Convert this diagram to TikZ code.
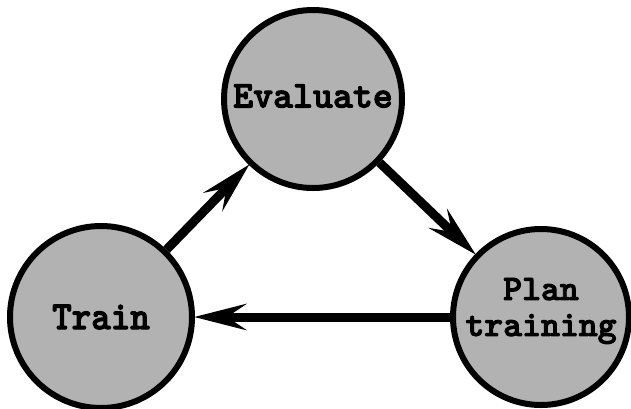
\documentclass[tikz,border=0pt]{standalone}
\usepackage{fontspec}
\newfontfamily\lblfont{lmmonolt10-bold.otf}[FakeBold=2.6]
\newfontfamily\lbltrain{lmmonolt10-bold.otf}[FakeBold=2.6, FakeStretch=0.93]
\usetikzlibrary{arrows.meta}
\definecolor{fillgray}{RGB}{178,178,178}
\tikzset{
  stagecircle/.style={circle, draw=black, line width=6pt, fill=fillgray, inner sep=0pt, align=center, text=black},
  cyclearrow/.style={line width=9pt, draw=black, -{Stealth[length=52pt,width=26pt,inset=19pt]}, shorten >=-1pt}
}
\begin{document}
\begin{tikzpicture}[x=1pt,y=-1pt]
\useasboundingbox[fill=white] (0,0) rectangle (631,408);
\node[stagecircle, minimum size=178pt, font=\lblfont\fontsize{38}{40}\selectfont] (evaluate) at (313,99) {\raisebox{-8.5pt}[0pt][0pt]{Evaluate}};
\node[stagecircle, minimum size=182pt, font=\lbltrain\fontsize{40}{42}\selectfont] (train) at (101,317) {Train};
\node[stagecircle, minimum size=176pt, font=\lblfont\fontsize{36}{36}\selectfont] (plan) at (541,317) {\raisebox{0pt}[0pt][0pt]{\begin{tabular}{@{}c@{}}Plan\\training\end{tabular}}};
\draw[cyclearrow] (train) -- (evaluate);
\draw[cyclearrow] (evaluate) -- (plan);
\draw[cyclearrow] (plan) -- (train);
\end{tikzpicture}
\end{document}
